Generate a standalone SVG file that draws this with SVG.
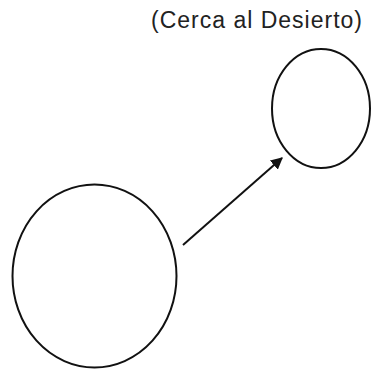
<svg xmlns="http://www.w3.org/2000/svg" width="371" height="371" viewBox="0 0 371 371">
<style>
.n{fill:none;stroke:#111;stroke-width:2}
.c{stroke:#111;stroke-width:2;fill:none}
text{font-family:"Liberation Sans",Arial,sans-serif;fill:#222}
</style>
<defs>
<marker id="ah" viewBox="0 0 10 10" refX="9" refY="5" markerWidth="6" markerHeight="6" orient="auto" markerUnits="strokeWidth">
<path d="M0,0 L10,5 L0,10 z" fill="#111"/>
</marker>
</defs>
<rect width="371" height="371" fill="#fff"/>
<g id="label"><text x="151" y="28" font-size="23" textLength="211" lengthAdjust="spacing">(Cerca al Desierto)</text></g>
<g id="small"><ellipse class="n" cx="321" cy="108.5" rx="49" ry="59.5"/></g>
<g id="big"><ellipse class="n" cx="94.5" cy="276" rx="82" ry="91.5"/></g>
<g id="connectors"><line class="c" x1="183" y1="245" x2="282" y2="158" marker-end="url(#ah)"/></g>
</svg>
